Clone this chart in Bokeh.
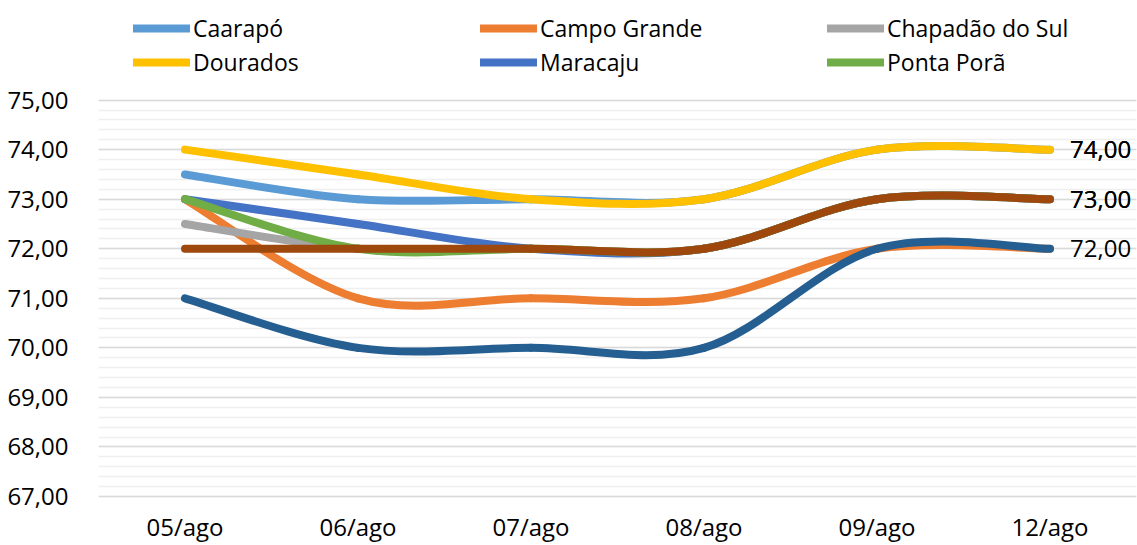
from bokeh.plotting import figure
from bokeh.models import FixedTicker, Legend, LegendItem, ColumnDataSource, Range1d
from bokeh.core.properties import value
from bokeh.embed import file_html
from bokeh.resources import INLINE

dates = ["05/ago", "06/ago", "07/ago", "08/ago", "09/ago", "12/ago"]
caarapo = [73.5, 73.0, 73.0, 73.0, 74.0, 74.0]
campo_grande = [73.0, 71.0, 71.0, 71.0, 72.0, 72.0]
chapadao = [72.5, 72.0, 72.0, 72.0, 73.0, 73.0]
dourados = [74.0, 73.5, 73.0, 73.0, 74.0, 74.0]
maracaju = [73.0, 72.5, 72.0, 72.0, 73.0, 73.0]
ponta_pora = [73.0, 72.0, 72.0, 72.0, 73.0, 73.0]
serie7 = [71.0, 70.0, 70.0, 70.0, 72.0, 72.0]
serie8 = [72.0, 72.0, 72.0, 72.0, 73.0, 73.0]

names = ["Caarapó", "Campo Grande", "Chapadão do Sul", "Dourados", "Maracaju", "Ponta Porã",
         "Série 7", "Série 8"]
series = [caarapo, campo_grande, chapadao, dourados, maracaju, ponta_pora, serie7, serie8]
colors = ["#5B9BD5", "#ED7D31", "#A5A5A5", "#FFC000", "#4472C4", "#70AD47", "#255E91", "#9E480E"]
labeled = [True, False, True, True, False, False, True, True]
y_ticks = [67, 68, 69, 70, 71, 72, 73, 74, 75]

FONT = "Open Sans"
NAN = float("nan")

p = figure(width=1137, height=545, output_backend="svg", toolbar_location=None,
           x_range=Range1d(-0.5, 5.5), y_range=Range1d(66.94, 77.01),
           min_border_left=98, min_border_right=1, min_border_top=0, min_border_bottom=44)
p.outline_line_color = None
p.background_fill_color = "white"
p.border_fill_color = "white"

xs = list(range(len(dates)))


def bezier_segments(ys):
    n = len(ys)
    d = dict(x0=[], y0=[], x1=[], y1=[], cx0=[], cy0=[], cx1=[], cy1=[])
    for i in range(n - 1):
        ip = max(i - 1, 0)
        inn = min(i + 2, n - 1)
        d["x0"].append(xs[i]); d["y0"].append(ys[i])
        d["x1"].append(xs[i + 1]); d["y1"].append(ys[i + 1])
        d["cx0"].append(xs[i] + (xs[i + 1] - xs[ip]) / 6.0)
        d["cy0"].append(ys[i] + (ys[i + 1] - ys[ip]) / 6.0)
        d["cx1"].append(xs[i + 1] - (xs[inn] - xs[i]) / 6.0)
        d["cy1"].append(ys[i + 1] - (ys[inn] - ys[i]) / 6.0)
    return ColumnDataSource(d)


# grid
minor = [round(67 + 0.2 * k, 1) for k in range(41)]
p.xgrid.grid_line_color = None
p.ygrid.ticker = FixedTicker(ticks=y_ticks, minor_ticks=minor)
p.ygrid.grid_line_color = "#D9D9D9"
p.ygrid.grid_line_width = 1.5
p.ygrid.minor_grid_line_color = "#EFEFEF"
p.ygrid.minor_grid_line_width = 1.5

proxies = []
for ys, c in zip(series, colors):
    src = bezier_segments(ys)
    p.bezier(x0="x0", y0="y0", x1="x1", y1="y1", cx0="cx0", cy0="cy0", cx1="cx1", cy1="cy1",
             source=src, line_color=c, line_width=8, line_cap="round")
    proxies.append(p.line(x=[NAN, NAN], y=[NAN, NAN], line_color=c, line_width=8,
                          line_cap="round"))

# data labels at last point
lab_x, lab_y, lab_t = [], [], []
for ys, lb in zip(series, labeled):
    if lb:
        lab_x.append(xs[-1]); lab_y.append(ys[-1]); lab_t.append(f"{ys[-1]:.2f}".replace(".", ","))
p.text(x=lab_x, y=lab_y, text=lab_t, x_offset=20, text_baseline="middle", text_align="left",
       text_font=value(FONT), text_font_size="24px", text_color="#000000")

# axes
p.xaxis.ticker = FixedTicker(ticks=xs)
p.xaxis.major_label_overrides = {i: d for i, d in enumerate(dates)}
p.yaxis.ticker = FixedTicker(ticks=y_ticks)
p.yaxis.major_label_overrides = {t: f"{t:.2f}".replace(".", ",") for t in y_ticks}
for ax in (p.xaxis[0], p.yaxis[0]):
    ax.axis_line_color = None
    ax.major_tick_line_color = None
    ax.minor_tick_line_color = None
    ax.major_label_text_font = FONT
    ax.major_label_text_font_size = "24px"
    ax.major_label_text_color = "#000000"
p.xaxis.major_label_standoff = 4
p.yaxis.major_label_standoff = 24

# legend: three columns of two rows
legend_cols = [[0, 3], [1, 4], [2, 5]]
col_x = [35, 382, 729]
LEG_Y = 421
for ci, idxs in enumerate(legend_cols):
    items = [LegendItem(label=names[k], renderers=[proxies[k]]) for k in idxs]
    lg = Legend(items=items, location=(col_x[ci], LEG_Y), orientation="vertical",
                glyph_width=57, glyph_height=20, label_standoff=3, spacing=2,
                padding=0, margin=0, border_line_color=None, background_fill_alpha=0,
                label_text_font=FONT, label_text_font_size="23px", label_height=30,
                label_text_color="#000000")
    p.add_layout(lg, "center")

open("out.html", "w").write(file_html(p, INLINE))
